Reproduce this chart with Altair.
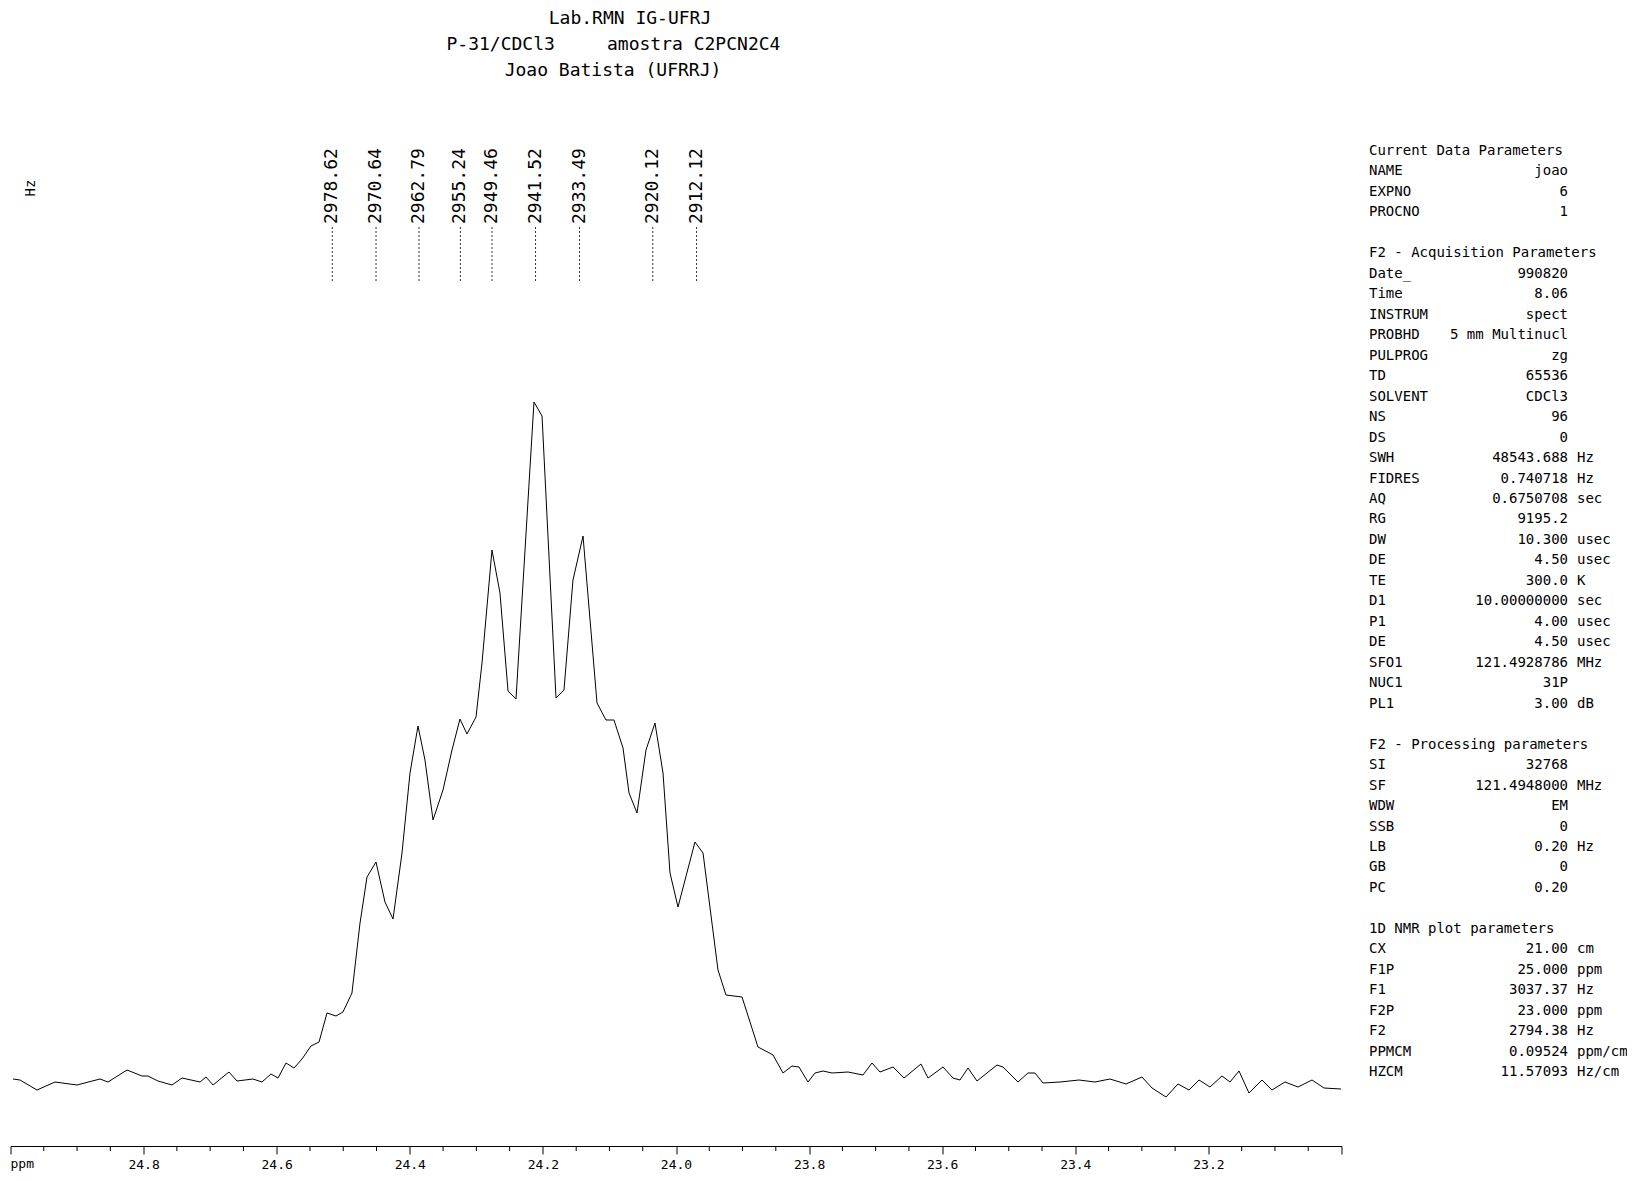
import altair as alt
import pandas as pd

# ---------------- data ----------------
ppm = [24.9962, 24.9857, 24.9602, 24.9331, 24.9001, 24.8655, 24.8535, 24.8249, 24.8024, 24.7934,
       24.7784, 24.7573, 24.7423, 24.7152, 24.7062, 24.6957, 24.6717, 24.6597, 24.6356, 24.6221,
       24.6086, 24.5980, 24.5860, 24.5740, 24.5620, 24.5485, 24.5364, 24.5244, 24.5109, 24.5004,
       24.4869, 24.4748, 24.4643, 24.4508, 24.4373, 24.4252, 24.4117, 24.3997, 24.3877, 24.3772,
       24.3651, 24.3501, 24.3366, 24.3246, 24.3141, 24.3005, 24.2915, 24.2765, 24.2645, 24.2524,
       24.2404, 24.2134, 24.2013, 24.1803, 24.1683, 24.1548, 24.1397, 24.1187, 24.1052, 24.0932,
       24.0796, 24.0706, 24.0586, 24.0451, 24.0316, 24.0195, 24.0090, 23.9970, 23.9715, 23.9594,
       23.9369, 23.9249, 23.9008, 23.8768, 23.8542, 23.8392, 23.8257, 23.8152, 23.8017, 23.7911,
       23.7791, 23.7656, 23.7415, 23.7190, 23.7055, 23.6935, 23.6739, 23.6574, 23.6319, 23.6213,
       23.5988, 23.5838, 23.5733, 23.5612, 23.5477, 23.5177, 23.5086, 23.4861, 23.4711, 23.4606,
       23.4485, 23.4230, 23.3944, 23.3704, 23.3479, 23.3238, 23.2998, 23.2847, 23.2637, 23.2457,
       23.2292, 23.2141, 23.1976, 23.1796, 23.1675, 23.1540, 23.1390, 23.1195, 23.1044, 23.0849,
       23.0654, 23.0443, 23.0263, 23.0008]
intensity = [1, 0, -10, -2, -5, 1, -2, 10, 4, 4,
             -1, -5, 2, -2, 3, -5, 8, -1, 1, -2,
             6, 2, 17, 12, 21, 34, 38, 67, 64, 68,
             87, 157, 203, 218, 178, 161, 227, 307, 354, 320,
             260, 290, 330, 361, 346, 363, 417, 530, 487, 389,
             381, 678, 664, 382, 390, 500, 544, 377, 360, 360,
             332, 287, 267, 330, 357, 307, 207, 173, 238, 227,
             110, 85, 83, 33, 25, 7, 14, 13, -2, 7,
             9, 7, 8, 5, 17, 8, 13, 2, 16, 2,
             13, 2, 0, 12, -1, 15, 13, -2, 7, 7,
             -3, -2, 0, -2, 1, -4, 3, -8, -17, -4,
             -10, 0, -7, 4, -2, 9, -13, 0, -10, -2,
             -7, 0, -8, -9]

SF_MHZ = 121.4948
peak_hz = [2978.62, 2970.64, 2962.79, 2955.24, 2949.46, 2941.52, 2933.49, 2920.12, 2912.12]

major_ticks = [25.0, 24.8, 24.6, 24.4, 24.2, 24.0, 23.8, 23.6, 23.4, 23.2, 23.0]
minor_ticks = [24.95, 24.9, 24.85, 24.75, 24.7, 24.65, 24.55, 24.5, 24.45, 24.35, 24.3, 24.25,
               24.15, 24.1, 24.05, 23.95, 23.9, 23.85, 23.75, 23.7, 23.65, 23.55, 23.5, 23.45,
               23.35, 23.3, 23.25, 23.15, 23.1, 23.05]

title_line1 = "Lab.RMN IG-UFRJ"
title_line2a = "P-31/CDCl3"
title_line2b = "amostra C2PCN2C4"
title_line3 = "Joao Batista (UFRRJ)"

param_names = ["Current Data Parameters", "NAME", "EXPNO", "PROCNO", "",
               "F2 - Acquisition Parameters", "Date_", "Time", "INSTRUM", "PROBHD", "PULPROG",
               "TD", "SOLVENT", "NS", "DS", "SWH", "FIDRES", "AQ", "RG", "DW", "DE", "TE", "D1",
               "P1", "DE", "SFO1", "NUC1", "PL1", "",
               "F2 - Processing parameters", "SI", "SF", "WDW", "SSB", "LB", "GB", "PC", "",
               "1D NMR plot parameters", "CX", "F1P", "F1", "F2P", "F2", "PPMCM", "HZCM"]
param_values = ["", "joao", "6", "1", "",
                "", "990820", "8.06", "spect", "5 mm Multinucl", "zg",
                "65536", "CDCl3", "96", "0", "48543.688", "0.740718", "0.6750708", "9195.2",
                "10.300", "4.50", "300.0", "10.00000000",
                "4.00", "4.50", "121.4928786", "31P", "3.00", "",
                "", "32768", "121.4948000", "EM", "0", "0.20", "0", "0.20", "",
                "", "21.00", "25.000", "3037.37", "23.000", "2794.38", "0.09524", "11.57093"]
param_units = ["", "", "", "", "",
               "", "", "", "", "", "",
               "", "", "", "", "Hz", "Hz", "sec", "", "usec", "usec", "K", "sec",
               "usec", "usec", "MHz", "", "dB", "",
               "", "", "MHz", "", "", "Hz", "", "", "",
               "", "cm", "ppm", "Hz", "ppm", "Hz", "ppm/cm", "Hz/cm"]

# ---------------- layout ----------------
W, H = 1331, 1138
FONT = "DejaVu Sans Mono"

spec_df = pd.DataFrame({"ppm": ppm, "intensity": intensity})
peaks_df = pd.DataFrame({"hz": peak_hz})
peaks_df["ppm"] = peaks_df["hz"] / SF_MHZ
peaks_df["label"] = peaks_df["hz"].map(lambda v: f"{v:.2f}")
minor_df = pd.DataFrame({"ppm": minor_ticks})

row_y0, row_dy = 143.0, 20.47
params_df = pd.DataFrame({"name": param_names, "value": param_values, "unit": param_units})
params_df["py"] = [row_y0 + row_dy * i for i in range(len(params_df))]

xs = alt.Scale(domain=[25.0, 23.0], nice=False, zero=False)
ys = alt.Scale(domain=[-66, 1072], nice=False, zero=False)

x_axis = alt.Axis(
    values=major_ticks, title=None, grid=False,
    labelExpr="(datum.value > 24.99 || datum.value < 23.01) ? '' : format(datum.value, '.1f')",
    tickSize=8, tickColor="black", tickWidth=1,
    domainColor="black", domainWidth=1,
    labelFont=FONT, labelFontSize=13, labelColor="black", labelPadding=4,
    labelFlush=False, labelOverlap=False,
)

X = alt.X("ppm:Q", scale=xs, axis=x_axis)

spectrum = alt.Chart(spec_df).mark_line(color="black", strokeWidth=1, clip=False).encode(
    x=X,
    y=alt.Y("intensity:Q", scale=ys, axis=None),
)

minor = alt.Chart(minor_df).mark_rule(color="black", strokeWidth=1).encode(
    x=X, y=alt.value(H), y2=alt.value(H + 5),
)

peak_rules = alt.Chart(peaks_df).mark_rule(
    color="#333333", strokeWidth=1, strokeDash=[2, 2]
).encode(x=X, y=alt.value(219), y2=alt.value(275))

peak_text = alt.Chart(peaks_df).mark_text(
    angle=270, align="left", baseline="middle", font=FONT, fontSize=18, color="black"
).encode(x=X, y=alt.value(216), text="label:N")


def label(txt, x, y, size=14, align="center", angle=0):
    return alt.Chart(pd.DataFrame({"t": [txt]})).mark_text(
        font=FONT, fontSize=size, align=align, baseline="middle", color="black", angle=angle
    ).encode(x=alt.value(x), y=alt.value(y), text="t:N")


titles = (
    label(title_line1, 619.5, 11, size=18)
    + label(title_line2a, 436, 37, size=18, align="left")
    + label(title_line2b, 596.5, 37, size=18, align="left")
    + label(title_line3, 602.5, 63, size=18)
)

hz_label = label("Hz", 20.5, 180, size=14, angle=270)
ppm_label = alt.Chart(pd.DataFrame({"t": ["ppm"]})).mark_text(
    font=FONT, fontSize=13, align="left", baseline="top", color="black"
).encode(x=alt.value(0), y=alt.value(H + 12), text="t:N")

pnames = alt.Chart(params_df).mark_text(
    font=FONT, fontSize=14, align="left", baseline="middle", color="black"
).encode(x=alt.value(1358.5), y=alt.Y("py:Q", scale=None), text="name:N")
pvalues = alt.Chart(params_df).mark_text(
    font=FONT, fontSize=14, align="right", baseline="middle", color="black"
).encode(x=alt.value(1557.5), y=alt.Y("py:Q", scale=None), text="value:N")
punits = alt.Chart(params_df).mark_text(
    font=FONT, fontSize=14, align="left", baseline="middle", color="black"
).encode(x=alt.value(1566.5), y=alt.Y("py:Q", scale=None), text="unit:N")

chart = alt.layer(
    spectrum, minor, peak_rules, peak_text, titles, hz_label, ppm_label, pnames, pvalues, punits
).properties(
    width=W, height=H,
    padding={"left": 2.5, "top": 0, "right": 285.5, "bottom": 27},
    autosize=alt.AutoSizeParams(type="none"),
    background="white",
).configure_view(stroke=None)

chart.save("out.html", embed_options={"renderer": "svg", "actions": False})
